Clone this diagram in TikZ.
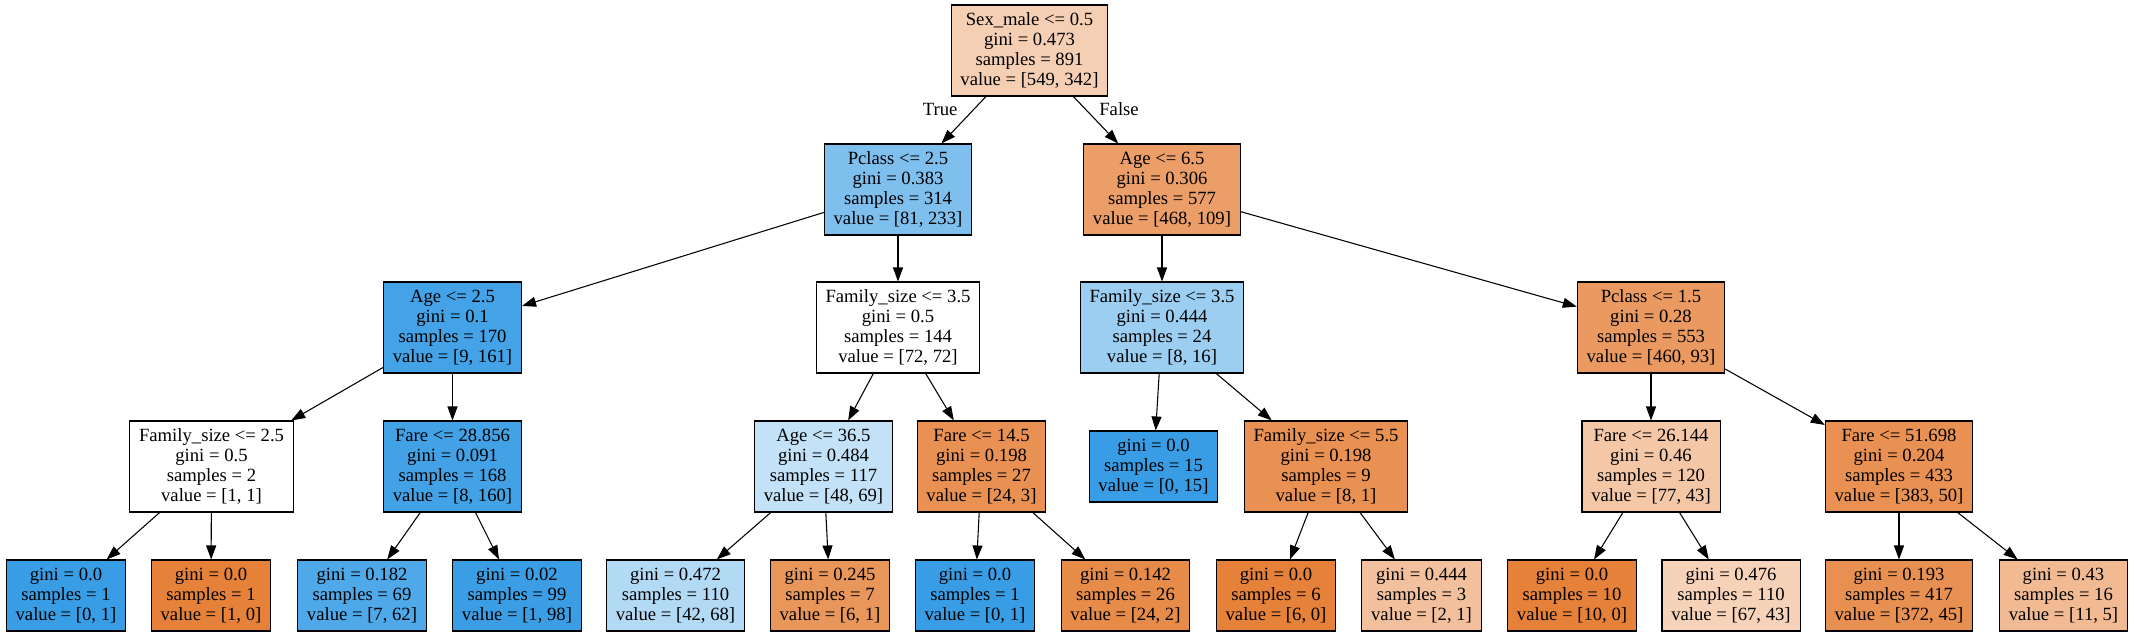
\documentclass[tikz,border=0pt]{standalone}
\usepackage{fontspec}
\setmainfont{Liberation Serif}
\usetikzlibrary{arrows.meta}
\definecolor{skorange}{RGB}{229,129,57}
\definecolor{skblue}{RGB}{57,157,229}
\tikzstyle{dt} = [rectangle, draw, line width=0.8pt, align=center,
    inner xsep=7pt, inner ysep=0pt, minimum height=68.25pt,
    font=\fontsize{14}{15}\selectfont]
\tikzstyle{lf} = [dt, minimum height=53.25pt]
\tikzstyle{lbl} = [inner sep=0pt, font=\fontsize{14}{15}\selectfont]

\begin{document}
\begin{tikzpicture}[x=0.75pt,y=-0.75pt,->,>={Triangle[length=10.5pt,width=7.5pt]},
                    line width=0.8pt]
  \useasboundingbox (0,0) rectangle (2134,636);

  % depth 0 and 1
  \node[dt,fill=skorange!37.7!white] (root)  at (1029.5,50.5) {Sex\_male <= 0.5\\gini = 0.473\\samples = 891\\value = [549, 342]};
  \node[dt,fill=skblue!65.2!white]   (pc25)  at (898,189.5)   {Pclass <= 2.5\\gini = 0.383\\samples = 314\\value = [81, 233]};
  \node[dt,fill=skorange!76.7!white] (age65) at (1162,189.5)  {Age <= 6.5\\gini = 0.306\\samples = 577\\value = [468, 109]};

  % depth 2
  \node[dt,fill=skblue!94.4!white]   (age25)  at (452.5,327.5) {Age <= 2.5\\gini = 0.1\\samples = 170\\value = [9, 161]};
  \node[dt,fill=white]               (fam35a) at (898,327.5)   {Family\_size <= 3.5\\gini = 0.5\\samples = 144\\value = [72, 72]};
  \node[dt,fill=skblue!50!white]     (fam35b) at (1162,327.5)  {Family\_size <= 3.5\\gini = 0.444\\samples = 24\\value = [8, 16]};
  \node[dt,fill=skorange!79.8!white] (pc15)   at (1651,327.5)  {Pclass <= 1.5\\gini = 0.28\\samples = 553\\value = [460, 93]};

  % depth 3
  \node[dt,fill=white]               (fam25)   at (211.5,466.5)  {Family\_size <= 2.5\\gini = 0.5\\samples = 2\\value = [1, 1]};
  \node[dt,fill=skblue!95!white]     (fare28)  at (452.5,466.5)  {Fare <= 28.856\\gini = 0.091\\samples = 168\\value = [8, 160]};
  \node[dt,fill=skblue!30.4!white]   (age365)  at (823.5,466.5)  {Age <= 36.5\\gini = 0.484\\samples = 117\\value = [48, 69]};
  \node[dt,fill=skorange!87.5!white] (fare145) at (981.5,466.5)  {Fare <= 14.5\\gini = 0.198\\samples = 27\\value = [24, 3]};
  \node[lf,fill=skblue]              (lf15)    at (1153.5,466.5) {gini = 0.0\\samples = 15\\value = [0, 15]};
  \node[dt,fill=skorange!87.5!white] (fam55)   at (1326,466.5)   {Family\_size <= 5.5\\gini = 0.198\\samples = 9\\value = [8, 1]};
  \node[dt,fill=skorange!44.2!white] (fare26)  at (1651,466.5)   {Fare <= 26.144\\gini = 0.46\\samples = 120\\value = [77, 43]};
  \node[dt,fill=skorange!86.9!white] (fare51)  at (1899,466.5)   {Fare <= 51.698\\gini = 0.204\\samples = 433\\value = [383, 50]};

  % leaves
  \node[lf,fill=skblue]              (l1)  at (66,595.5)     {gini = 0.0\\samples = 1\\value = [0, 1]};
  \node[lf,fill=skorange]            (l2)  at (211,595.5)    {gini = 0.0\\samples = 1\\value = [1, 0]};
  \node[lf,fill=skblue!88.7!white]   (l3)  at (362,595.5)    {gini = 0.182\\samples = 69\\value = [7, 62]};
  \node[lf,fill=skblue!99!white]     (l4)  at (517,595.5)    {gini = 0.02\\samples = 99\\value = [1, 98]};
  \node[lf,fill=skblue!38.2!white]   (l5)  at (675.5,595.5)  {gini = 0.472\\samples = 110\\value = [42, 68]};
  \node[lf,fill=skorange!83.3!white] (l6)  at (830,595.5)    {gini = 0.245\\samples = 7\\value = [6, 1]};
  \node[lf,fill=skblue]              (l7)  at (975,595.5)    {gini = 0.0\\samples = 1\\value = [0, 1]};
  \node[lf,fill=skorange!91.7!white] (l8)  at (1125.5,595.5) {gini = 0.142\\samples = 26\\value = [24, 2]};
  \node[lf,fill=skorange]            (l9)  at (1276,595.5)   {gini = 0.0\\samples = 6\\value = [6, 0]};
  \node[lf,fill=skorange!50!white]   (l10) at (1421.5,595.5) {gini = 0.444\\samples = 3\\value = [2, 1]};
  \node[lf,fill=skorange]            (l11) at (1572,595.5)   {gini = 0.0\\samples = 10\\value = [10, 0]};
  \node[lf,fill=skorange!35.8!white] (l12) at (1731,595.5)   {gini = 0.476\\samples = 110\\value = [67, 43]};
  \node[lf,fill=skorange!87.9!white] (l13) at (1899,595.5)   {gini = 0.193\\samples = 417\\value = [372, 45]};
  \node[lf,fill=skorange!54.5!white] (l14) at (2063.5,595.5) {gini = 0.43\\samples = 16\\value = [11, 5]};

  \path (root) edge node[lbl,pos=0.27,left=12pt] {True} (pc25)
        (root) edge node[lbl,pos=0.27,right=10pt] {False} (age65)
        (pc25) edge (age25)
        (pc25) edge (fam35a)
        (age65) edge (fam35b)
        (age65) edge (pc15)
        (age25) edge (fam25)
        (age25) edge (fare28)
        (fam35a) edge (age365)
        (fam35a) edge (fare145)
        (fam35b) edge (lf15)
        (fam35b) edge (fam55)
        (pc15) edge (fare26)
        (pc15) edge (fare51)
        (fam25) edge (l1)
        (fam25) edge (l2)
        (fare28) edge (l3)
        (fare28) edge (l4)
        (age365) edge (l5)
        (age365) edge (l6)
        (fare145) edge (l7)
        (fare145) edge (l8)
        (fam55) edge (l9)
        (fam55) edge (l10)
        (fare26) edge (l11)
        (fare26) edge (l12)
        (fare51) edge (l13)
        (fare51) edge (l14);
\end{tikzpicture}
\end{document}
